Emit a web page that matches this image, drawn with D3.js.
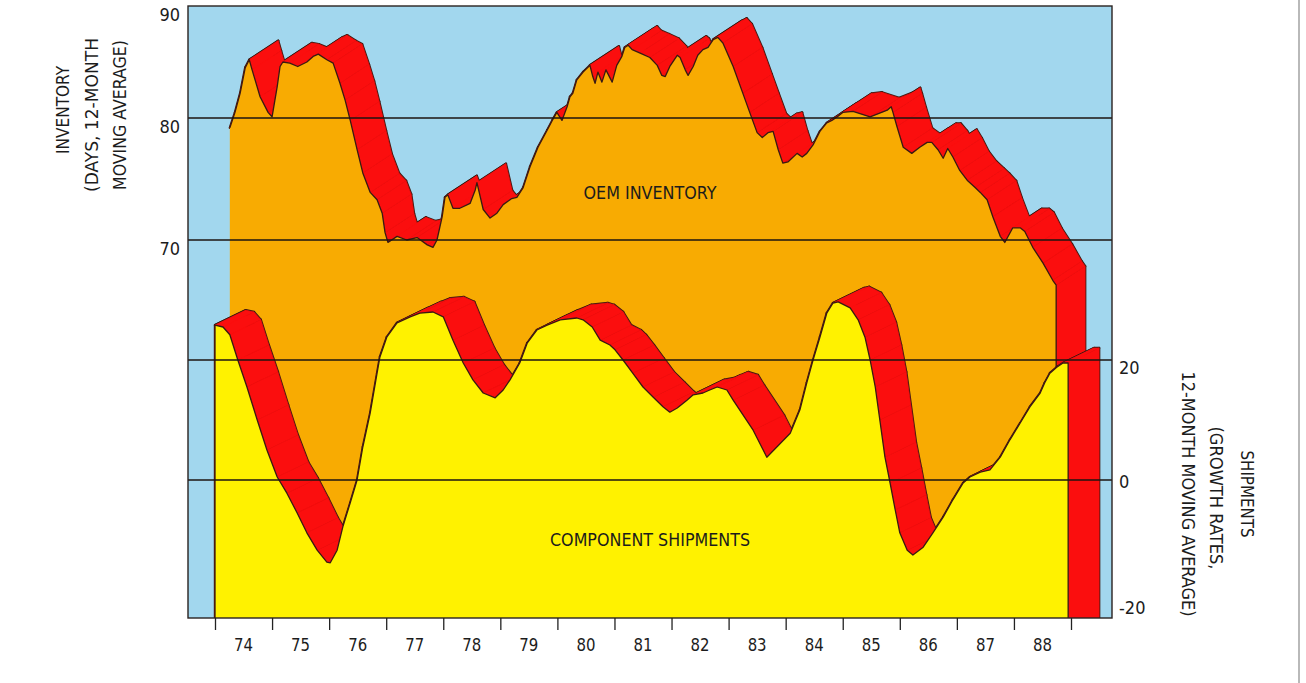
<!DOCTYPE html>
<html><head><meta charset="utf-8">
<script src="https://cdn.jsdelivr.net/npm/d3@7"></script>
<style>
body{margin:0;background:#fff;}
svg{display:block;}
text{font-family:"DejaVu Sans Condensed","DejaVu Sans",sans-serif;font-stretch:condensed;fill:#1c1c1c;}
</style></head><body>
<svg id="c" width="1306" height="683"></svg>
<script>
// ---- data ----
const oemYears=[1974.26,1974.35,1974.44,1974.53,1974.60,1974.65,1974.79,1974.93,1975.00,1975.09,1975.14,1975.19,1975.31,1975.45,1975.61,1975.72,1975.81,1975.96,1976.07,1976.19,1976.28,1976.37,1976.49,1976.59,1976.72,1976.84,1976.93,1976.98,1977.03,1977.19,1977.36,1977.54,1977.72,1977.82,1977.89,1977.98,1978.03,1978.08,1978.17,1978.29,1978.47,1978.56,1978.59,1978.70,1978.82,1978.94,1979.05,1979.20,1979.29,1979.40,1979.52,1979.66,1979.82,1979.91,1979.99,1980.08,1980.17,1980.22,1980.27,1980.34,1980.45,1980.57,1980.62,1980.66,1980.71,1980.78,1980.85,1980.96,1981.04,1981.13,1981.18,1981.24,1981.31,1981.45,1981.62,1981.75,1981.83,1981.89,1981.97,1982.10,1982.15,1982.24,1982.29,1982.38,1982.46,1982.55,1982.64,1982.73,1982.81,1982.90,1983.08,1983.25,1983.37,1983.50,1983.59,1983.69,1983.78,1983.87,1983.95,1984.04,1984.20,1984.29,1984.37,1984.48,1984.60,1984.72,1984.81,1984.90,1985.00,1985.18,1985.48,1985.78,1985.85,1985.88,1985.95,1986.06,1986.21,1986.35,1986.48,1986.56,1986.67,1986.76,1986.84,1986.93,1987.05,1987.18,1987.32,1987.41,1987.53,1987.63,1987.76,1987.84,1987.98,1988.11,1988.19,1988.33,1988.51,1988.68,1988.74];
const oemDays=[79.2,80.5,82.2,84.5,85.2,84.3,81.9,80.5,80.1,82.8,84.6,85.0,84.9,84.6,85.0,85.5,85.7,85.2,84.9,83.1,81.6,79.8,77.4,75.5,73.9,73.3,72.2,70.6,69.8,70.3,70.0,70.2,69.6,69.4,70.0,71.9,73.5,73.7,72.6,72.6,73.0,74.1,74.7,72.5,71.8,72.2,72.9,73.4,73.5,74.3,76.0,77.6,79.0,79.8,80.5,79.8,81.0,81.9,82.2,83.4,84.1,84.7,83.7,83.1,84.1,83.2,84.3,83.2,84.7,85.5,86.3,86.5,86.1,85.8,85.4,84.7,83.8,83.7,84.6,85.6,85.4,84.3,83.8,84.6,85.6,86.1,86.3,87.0,87.2,86.7,84.6,82.2,80.5,78.8,78.4,78.8,78.9,77.4,76.3,76.4,77.1,76.8,77.1,77.8,78.9,79.6,79.8,80.1,80.5,80.6,80.1,80.7,81.0,80.5,79.3,77.6,77.1,77.6,78.0,78.0,77.4,76.7,77.5,76.8,75.7,74.9,74.3,73.9,73.3,71.9,70.3,69.8,71.0,71.0,70.7,69.4,68.1,66.7,66.3];

const shipYears=[1974.00,1974.14,1974.26,1974.40,1974.56,1974.74,1974.91,1975.09,1975.26,1975.44,1975.61,1975.79,1975.96,1976.02,1976.14,1976.24,1976.37,1976.49,1976.59,1976.72,1976.84,1976.89,1977.01,1977.19,1977.42,1977.59,1977.82,1978.00,1978.17,1978.35,1978.52,1978.70,1978.91,1979.05,1979.17,1979.34,1979.47,1979.64,1979.82,1980.05,1980.34,1980.45,1980.61,1980.75,1980.92,1981.01,1981.15,1981.32,1981.50,1981.68,1981.85,1981.97,1982.10,1982.27,1982.38,1982.55,1982.67,1982.80,1982.97,1983.08,1983.43,1983.67,1984.08,1984.25,1984.37,1984.48,1984.60,1984.72,1984.83,1984.92,1985.13,1985.27,1985.39,1985.48,1985.57,1985.65,1985.74,1985.83,1985.92,1986.00,1986.13,1986.23,1986.41,1986.58,1986.76,1986.93,1987.11,1987.23,1987.41,1987.58,1987.76,1987.93,1988.11,1988.28,1988.46,1988.54,1988.63,1988.75,1988.86,1988.95];
const shipGrowth=[25.8,25.5,24.2,20.0,15.5,10.0,5.0,0.5,-2.2,-5.5,-8.8,-11.7,-13.7,-13.8,-11.7,-7.8,-3.8,0.0,5.5,11.2,17.8,20.5,23.8,26.2,27.2,27.8,28.0,27.2,23.3,19.5,16.7,14.5,13.7,15.0,16.7,19.5,22.8,25.0,25.8,26.7,27.0,26.7,25.5,23.3,22.5,21.7,20.0,17.8,15.5,13.8,12.2,11.3,12.0,13.3,14.2,14.5,15.0,15.5,15.0,13.3,8.3,3.8,7.8,11.7,16.2,20.0,23.8,27.8,29.5,29.7,28.7,26.7,23.8,20.0,15.5,10.0,3.8,-0.5,-5.0,-8.8,-11.7,-12.5,-11.2,-8.8,-6.2,-3.3,-0.5,0.5,1.3,1.7,3.8,6.7,9.5,12.2,14.5,16.2,17.8,18.8,19.5,19.5];

const yearTicks=[1974,1975,1976,1977,1978,1979,1980,1981,1982,1983,1984,1985,1986,1987,1988,1989];
const yearLabels=["74","75","76","77","78","79","80","81","82","83","84","85","86","87","88"];
const invTicks=[70,80,90];
const shipTicks=[-20,0,20];
const invGrid=[70,80];
const shipGrid=[0,20];

// ---- layout / style ----
const plot={l:188,r:1112,t:6,b:618};
const C={blue:"#a2d7ee",orange:"#f8ab02",yellow:"#fff200",red:"#fb0e0e",ink:"#3a1a12"};
const svg=d3.select("#c");

const x=d3.scaleLinear().domain([1974,1989]).range([215,1071]);
const yInv=d3.scaleLinear().domain([70,80,90]).range([240,118,6]);
const yShip=d3.scaleLinear().domain([-20,20]).range([600,360]);

svg.append("defs").append("clipPath").attr("id","clip")
  .append("rect").attr("x",plot.l).attr("y",plot.t).attr("width",plot.r-plot.l).attr("height",plot.b-plot.t);

svg.append("rect").attr("x",plot.l).attr("y",plot.t).attr("width",plot.r-plot.l).attr("height",plot.b-plot.t).attr("fill",C.blue);

const g=svg.append("g").attr("clip-path","url(#clip)");
const base=720;

function extrude(years,vals,yS,dx,dy,color,outlineLeft){
  const curve=years.map((yr,i)=>[x(yr),yS(vals[i])]);
  const pts=[[curve[0][0],base],...curve,[curve[curve.length-1][0],base]];
  const quads=[];
  for(let i=(outlineLeft?0:1);i<pts.length-1;i++){
    const a=pts[i],b=pts[i+1];
    quads.push([a,b,[b[0]+dx,b[1]+dy],[a[0]+dx,a[1]+dy]]);
  }
  const qd=q=>"M"+q.map(p=>p.join(",")).join("L")+"Z";
  g.append("g").selectAll("path").data(quads).join("path").attr("d",qd)
    .attr("fill",C.ink).attr("stroke",C.ink).attr("stroke-width",2.4).attr("stroke-linejoin","round");
  g.append("g").selectAll("path").data(quads).join("path").attr("d",qd)
    .attr("fill",C.red).attr("stroke",C.red).attr("stroke-width",0.6).attr("stroke-linejoin","round");
  const line=d3.line();
  g.append("path").attr("d",line(pts)+"Z").attr("fill",color);
  const edge=outlineLeft?pts:pts.slice(1);
  g.append("path").attr("d",line(edge)).attr("fill","none").attr("stroke",C.ink).attr("stroke-width",1.3).attr("stroke-linejoin","round");
}

extrude(oemYears,oemDays,yInv,29,-19,C.orange,false);
extrude(shipYears,shipGrowth,yShip,31,-15,C.yellow,true);

// grid lines
const gl=svg.append("g");
gl.selectAll(".gi").data(invGrid).join("line").attr("x1",plot.l).attr("x2",plot.r)
  .attr("y1",d=>yInv(d)).attr("y2",d=>yInv(d)).attr("stroke","#1d1410").attr("stroke-width",1.3);
gl.selectAll(".gs").data(shipGrid).join("line").attr("x1",plot.l).attr("x2",plot.r)
  .attr("y1",d=>yShip(d)).attr("y2",d=>yShip(d)).attr("stroke","#1d1410").attr("stroke-width",1.3);

// frame
svg.append("rect").attr("x",plot.l).attr("y",plot.t).attr("width",plot.r-plot.l).attr("height",plot.b-plot.t)
  .attr("fill","none").attr("stroke","#2a2220").attr("stroke-width",1.4);

// axes
const ax=svg.append("g").attr("transform",`translate(0,${plot.b})`)
  .call(d3.axisBottom(x).tickValues(yearTicks).tickSize(12).tickFormat(""));
ax.select(".domain").remove();
ax.selectAll("line").attr("stroke","#222").attr("stroke-width",1.3);

svg.append("g").selectAll("text").data(yearLabels).join("text")
  .attr("x",(d,i)=>x(yearTicks[i]+0.5)).attr("y",651).attr("text-anchor","middle")
  .attr("font-size",18).attr("textLength",19).attr("lengthAdjust","spacingAndGlyphs").text(d=>d);

const al=svg.append("g").attr("transform",`translate(${plot.l},0)`)
  .call(d3.axisLeft(yInv).tickValues(invTicks).tickSize(0).tickPadding(8).tickFormat(d3.format("d")));
al.select(".domain").remove();
al.selectAll("text").attr("y",9).attr("font-size",18).attr("font-family",null).style("font-family",'"DejaVu Sans Condensed","DejaVu Sans",sans-serif').attr("fill","#1c1c1c");

const ar=svg.append("g").attr("transform",`translate(${plot.r},0)`)
  .call(d3.axisRight(yShip).tickValues(shipTicks).tickSize(0).tickPadding(7).tickFormat(d=>d<0?"-"+Math.abs(d):String(d)));
ar.select(".domain").remove();
ar.selectAll("text").attr("y",d=>d===0?2:8).attr("font-size",18).attr("font-family",null).style("font-family",'"DejaVu Sans Condensed","DejaVu Sans",sans-serif').attr("fill","#1c1c1c");

// titles
function rot(xc,yc,angle,txt,len){
  svg.append("text").attr("transform",`translate(${xc},${yc}) rotate(${angle})`)
    .attr("text-anchor","middle").attr("dominant-baseline","central")
    .attr("font-size",17).attr("textLength",len).attr("lengthAdjust","spacingAndGlyphs").text(txt);
}
rot(63,110,-90,"INVENTORY",88);
rot(92,115,-90,"(DAYS, 12-MONTH",154);
rot(120,115,-90,"MOVING AVERAGE)",150);
rot(1247,494,90,"SHIPMENTS",87);
rot(1216,498,90,"(GROWTH RATES,",143);
rot(1188,494,90,"12-MONTH MOVING AVERAGE)",245);

svg.append("text").attr("x",650).attr("y",199).attr("text-anchor","middle").attr("font-size",17)
  .attr("textLength",133).attr("lengthAdjust","spacingAndGlyphs").text("OEM  INVENTORY");
svg.append("text").attr("x",650).attr("y",546).attr("text-anchor","middle").attr("font-size",17)
  .attr("textLength",200).attr("lengthAdjust","spacingAndGlyphs").text("COMPONENT  SHIPMENTS");

// page edge
svg.append("line").attr("x1",1299).attr("x2",1299).attr("y1",0).attr("y2",683).attr("stroke","#8a8a8a").attr("stroke-width",1.2);
</script>
</body></html>
